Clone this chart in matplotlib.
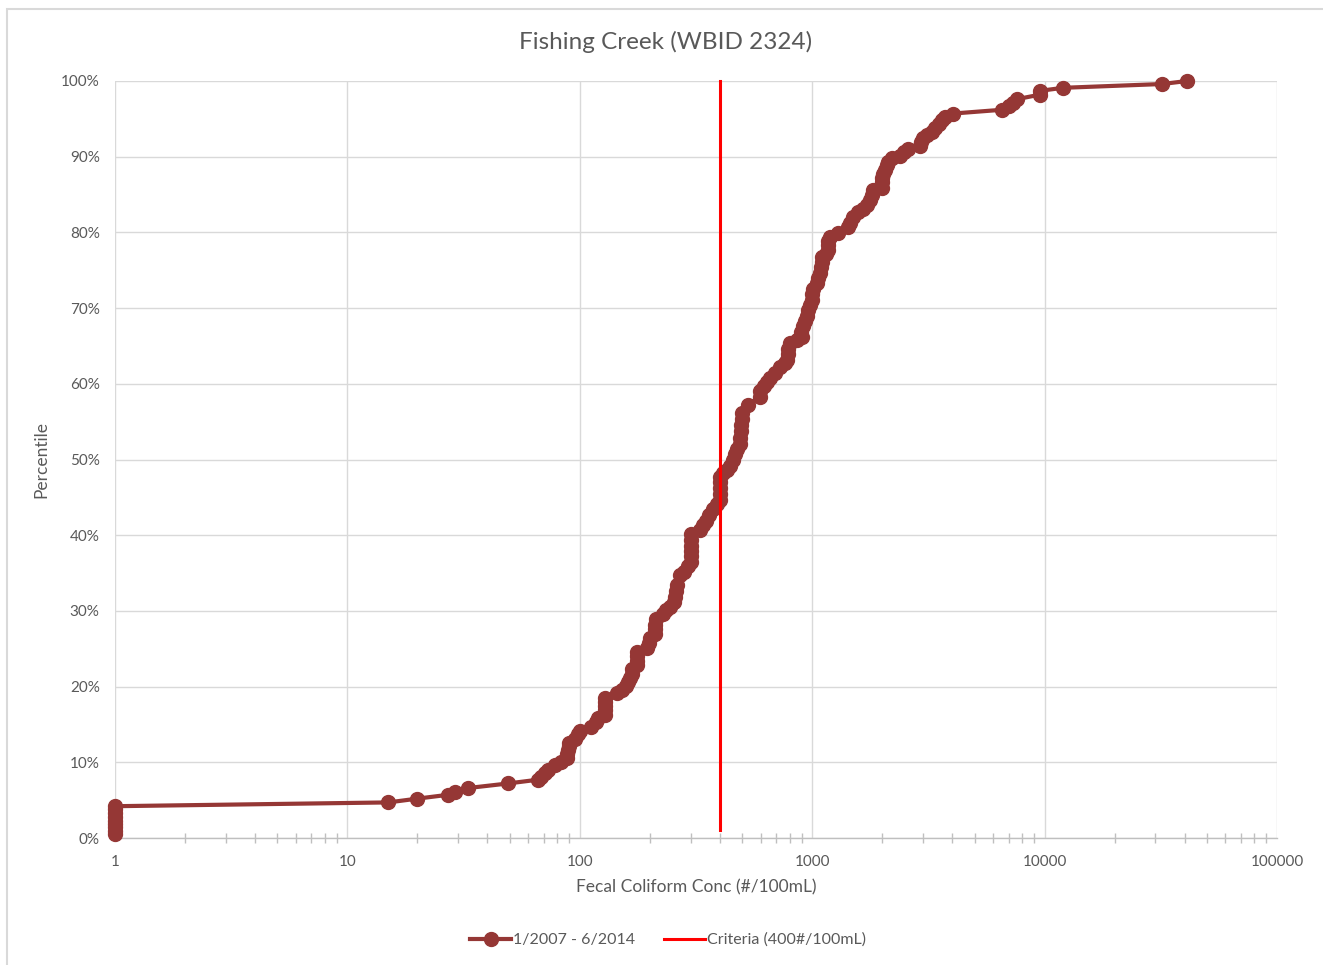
import matplotlib
matplotlib.use("Agg")
import matplotlib.pyplot as plt
from matplotlib.ticker import FixedLocator, FuncFormatter, LogLocator, NullFormatter
from matplotlib.lines import Line2D
from matplotlib.patches import Rectangle

plt.rcParams['font.family'] = ['Lato', 'DejaVu Sans']

# ---- data (concentration #/100mL, percentile %) ----
conc = [1, 1, 1, 1, 1, 1, 1, 1, 1,
        15, 20, 27, 29, 33, 49, 66, 68, 71, 73, 78, 83,
        88, 88, 89, 90, 90, 95, 98, 100,
        112, 117, 120, 128, 128, 128, 128, 128,
        145, 152, 158, 162, 165, 167, 168,
        176, 176, 176, 176, 195, 198, 200,
        211, 211, 211, 213, 228, 236, 244,
        255, 257, 259, 262, 270, 280, 292,
        300, 302, 302, 302, 302, 302,
        330, 340, 350, 360, 375, 390,
        400, 400, 400, 400, 402,
        415, 430, 445, 456, 465, 475, 489, 489, 492, 495, 497, 499, 529,
        596, 596, 620, 639, 660, 690, 727, 760,
        780, 785, 790, 800, 860, 900,
        895, 915, 930, 950, 960, 980, 995, 1000, 1007,
        1049, 1060, 1081, 1090, 1100, 1104, 1150,
        1170, 1170, 1175, 1194, 1294,
        1427, 1460, 1498, 1575, 1650, 1721, 1773, 1800, 1827,
        1997, 2000, 2005, 2017, 2060, 2100, 2118, 2204,
        2387, 2480, 2584, 2910, 2950, 2997, 3120, 3275,
        3375, 3500, 3620, 3725, 4035,
        6560, 7000, 7300, 7606, 9550, 9550, 12000, 32000, 41000]
pct = [0.5, 0.9, 1.4, 1.8, 2.3, 2.8, 3.3, 3.8, 4.2,
       4.7, 5.2, 5.7, 6.1, 6.6, 7.2, 7.7, 8.1, 8.6, 9.0, 9.6, 10.0,
       10.6, 11.1, 11.6, 12.1, 12.5, 13.1, 13.7, 14.2,
       14.7, 15.3, 15.8, 16.3, 16.9, 17.4, 17.9, 18.5,
       19.1, 19.6, 20.1, 20.6, 21.1, 21.7, 22.3,
       22.8, 23.4, 24.0, 24.6, 25.1, 25.7, 26.4,
       27.0, 27.6, 28.2, 28.9, 29.6, 30.1, 30.5,
       31.2, 31.9, 32.6, 33.4, 34.7, 35.2, 35.9,
       36.5, 37.2, 37.9, 38.6, 39.4, 40.1,
       40.7, 41.3, 41.9, 42.7, 43.4, 44.1,
       44.6, 45.4, 46.2, 47.0, 47.7,
       48.2, 48.6, 49.2, 49.9, 50.7, 51.4, 52.1, 52.9, 53.7, 54.5, 55.3, 56.2, 57.2,
       58.3, 59.1, 59.7, 60.2, 60.8, 61.4, 62.2, 62.8,
       63.2, 63.9, 64.6, 65.4, 65.8, 66.2,
       66.9, 67.6, 68.3, 69.0, 69.7, 70.4, 71.1, 71.8, 72.5,
       73.3, 74.0, 74.7, 75.4, 76.1, 76.7, 77.1,
       77.7, 78.3, 78.9, 79.4, 79.9,
       80.7, 81.3, 82.0, 82.7, 83.1, 83.6, 84.3, 85.0, 85.6,
       85.9, 86.6, 87.2, 87.7, 88.3, 88.9, 89.3, 89.8,
       90.1, 90.6, 91.0, 91.4, 92.0, 92.5, 92.9, 93.3,
       93.8, 94.3, 94.8, 95.2, 95.7,
       96.2, 96.7, 97.1, 97.6, 98.2, 98.7, 99.1, 99.6, 100.0]

criteria_x = [400, 400]
criteria_y = [1.0, 100.0]

series_label = "1/2007 - 6/2014"
criteria_label = "Criteria (400#/100mL)"
title = "Fishing Creek (WBID 2324)"
xlabel = "Fecal Coliform Conc (#/100mL)"
ylabel = "Percentile"
xticks = [1, 10, 100, 1000, 10000, 100000]
yticks = [0, 10, 20, 30, 40, 50, 60, 70, 80, 90, 100]

# ---- styling ----
W, H = 1323, 965
fig = plt.figure(figsize=(W / 100, H / 100), dpi=100)
ax = fig.add_axes([115 / W, 1 - 838 / H, (1277 - 115) / W, (838 - 81) / H])

series_color = '#953735'
text_color = '#595959'
grid_color = '#D9D9D9'

ax.set_xscale('log')
ax.set_xlim(1, 100000)
ax.set_ylim(0, 100)

ax.plot(conc, pct, color=series_color, lw=3, marker='o', ms=10,
        markerfacecolor=series_color, markeredgecolor=series_color, zorder=3,
        solid_capstyle='round', clip_on=False)
ax.plot(criteria_x, criteria_y, color='#FF0000', lw=2.2, zorder=4, clip_on=False)

ax.xaxis.set_major_locator(FixedLocator(xticks))
ax.xaxis.set_major_formatter(FuncFormatter(lambda v, p: f"{int(round(v))}"))
ax.xaxis.set_minor_locator(LogLocator(base=10, subs=range(2, 10)))
ax.xaxis.set_minor_formatter(NullFormatter())
ax.yaxis.set_major_locator(FixedLocator(yticks))
ax.yaxis.set_major_formatter(FuncFormatter(lambda v, p: f"{int(round(v))}%"))

ax.grid(True, which='major', color=grid_color, lw=1.0)
ax.set_axisbelow(True)
for s in ['top', 'right', 'left']:
    ax.spines[s].set_visible(False)
ax.spines['bottom'].set_color('#BFBFBF')
ax.spines['bottom'].set_linewidth(1.0)

ax.tick_params(axis='x', which='major', length=0, pad=12, labelsize=11, labelcolor=text_color)
ax.tick_params(axis='x', which='minor', direction='inout', length=7, width=1, color='#BFBFBF')
ax.tick_params(axis='y', which='major', length=0, pad=11, labelsize=11, labelcolor=text_color)

ax.set_xlabel(xlabel, fontsize=12.5, color=text_color, labelpad=8)
ax.set_ylabel(ylabel, fontsize=12.5, color=text_color, labelpad=8)

fig.text(666 / W, 1 - 42 / H, title, ha='center', va='center', fontsize=17.5, color=text_color)

handles = [
    Line2D([], [], color=series_color, lw=3, marker='o', ms=10),
    Line2D([], [], color='#FF0000', lw=2.2),
]
fig.legend(handles, [series_label, criteria_label], loc='center',
           bbox_to_anchor=(668 / W, 1 - 940 / H), ncol=2, frameon=False,
           fontsize=11.5, labelcolor=text_color, handlelength=2.6,
           handletextpad=0.1, columnspacing=1.8)

# chart border (cropped screenshot shows top and left edges)
fig.patches.append(Rectangle((7 / W, -0.1), 1.2, (1 - 9 / H) + 0.1,
                             transform=fig.transFigure, fill=False,
                             edgecolor='#D9D9D9', lw=1.5))

fig.savefig('out.png', dpi=100)
